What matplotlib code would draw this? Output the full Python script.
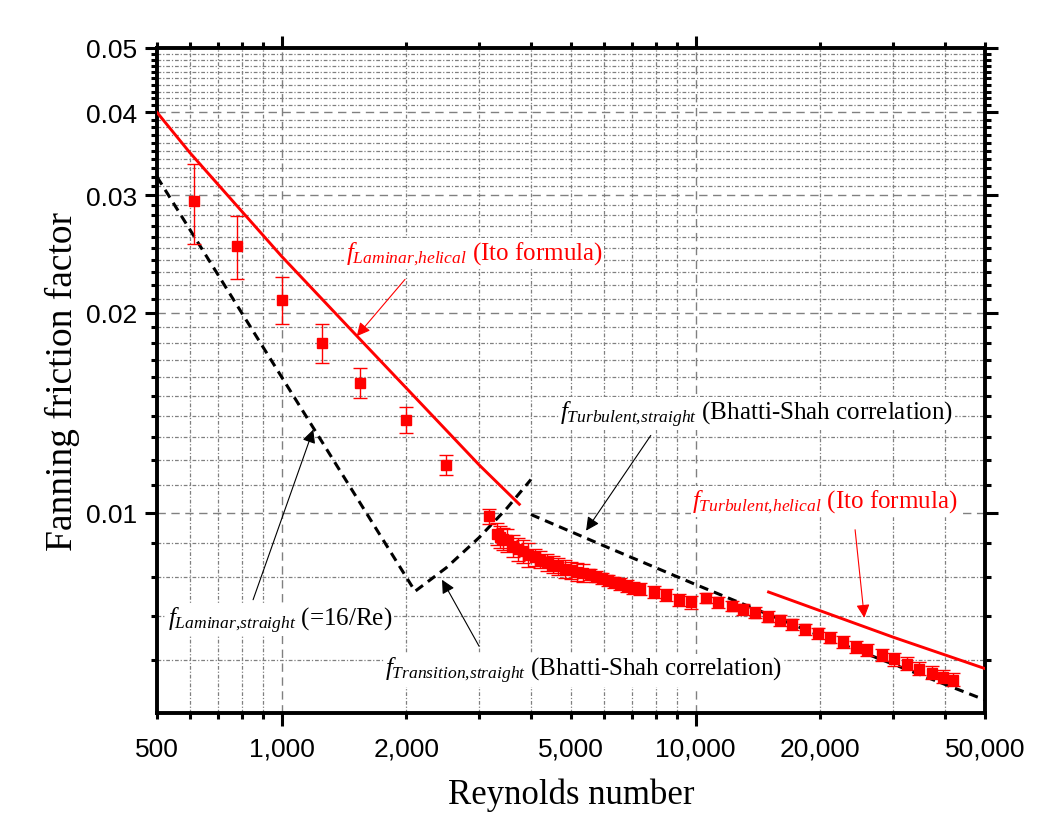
import numpy as np
import matplotlib
matplotlib.use("Agg")
import matplotlib.pyplot as plt
from matplotlib.ticker import FixedLocator, FuncFormatter, NullFormatter

plt.rcParams['font.family'] = ['Liberation Sans', 'DejaVu Sans']
plt.rcParams['mathtext.fontset'] = 'custom'
plt.rcParams['mathtext.rm'] = 'Liberation Serif'
plt.rcParams['mathtext.it'] = 'Liberation Serif:italic'
plt.rcParams['mathtext.bf'] = 'Liberation Serif:bold'

# correlation curves
re_lam_straight = [500, 2100]
f_lam_straight = [0.0320, 0.00762]
re_trans_straight = [2100, 2500, 3000, 3500, 4000]
f_trans_straight = [0.00762, 0.00827, 0.00918, 0.01016, 0.01122]
re_turb_straight = [4000, 6000, 10000, 20000, 50000]
f_turb_straight = [0.00994, 0.00892, 0.00780, 0.00653, 0.00523]

re_lam_helical = [500, 600, 1000, 1500, 2000, 3000, 3750]
f_lam_helical = [0.0400, 0.0348, 0.0243, 0.0186, 0.0154, 0.0118, 0.0103]
re_turb_helical = [15000, 30000, 50000]
f_turb_helical = [0.0076, 0.0065, 0.00583]

# measured friction factor
re_exp_low = [615, 780, 1000, 1250, 1550, 2000, 2500]
f_exp_low = [0.0294, 0.0252, 0.0209, 0.0180, 0.0157, 0.0138, 0.0118]
err_exp_low = [0.0040, 0.0027, 0.0017, 0.0012, 0.0008, 0.0006, 0.0004]

re_exp_high = [3175, 3307, 3370, 3432, 3509, 3628, 3730, 3822, 3943, 4093,
               4208, 4368, 4516, 4659, 4835, 4992, 5162, 5355, 5558, 5746,
               5930, 6152, 6351, 6567, 6815, 7047, 7340, 7934, 8481, 9134,
               9730, 10594, 11344, 12222, 12990, 13911, 14984, 15993, 17090,
               18373, 19720, 21120, 22660, 24360, 25980, 28150, 30150, 32350,
               34700, 37180, 39660, 41920]
f_exp_high = [0.00988, 0.00930, 0.00921, 0.00913, 0.00909, 0.00892, 0.00882,
              0.00875, 0.00865, 0.00858, 0.00850, 0.00842, 0.00836, 0.00831,
              0.00824, 0.00819, 0.00814, 0.00812, 0.00808, 0.00802, 0.00797,
              0.00791, 0.00786, 0.00781, 0.00775, 0.00771, 0.00768, 0.00761,
              0.00752, 0.00740, 0.00733, 0.00745, 0.00733, 0.00725, 0.00716,
              0.00708, 0.00698, 0.00689, 0.00680, 0.00668, 0.00659, 0.00649,
              0.00640, 0.00629, 0.00621, 0.00611, 0.00602, 0.00593, 0.00583,
              0.00575, 0.00567, 0.00561]
err_exp_high = ([0.00025] + [0.00035] * 8 + [0.00025] * 9 + [0.00016] * 13
                + [0.00013] * 21)

# annotations: (text, colour, text position, arrow tail, arrow head)
labels = [
    (r'$f_{Laminar{,}helical}$ (Ito formula)', 'red',
     (1430, 0.0246), (1986, 0.02244), (1518, 0.01843)),
    (r'$f_{Turbulent{,}straight}$ (Bhatti-Shah correlation)', 'black',
     (4703, 0.0141), (7790, 0.01307), (5436, 0.0094)),
    (r'$f_{Turbulent{,}helical}$ (Ito formula)', 'red',
     (9800, 0.01039), (24270, 0.00943), (25550, 0.00695)),
    (r'$f_{Laminar{,}straight}$ (=16/Re)', 'black',
     (531, 0.0069), (853, 0.0074), (1192, 0.01334)),
    (r'$f_{Transition{,}straight}$ (Bhatti-Shah correlation)', 'black',
     (1777, 0.0058), (2998, 0.0063), (2440, 0.00793)),
]

x_labelled = [500, 1000, 2000, 5000, 10000, 20000, 50000]

fig = plt.figure(figsize=(10.64, 8.37), dpi=100)
ax = fig.add_axes([0.1476, 0.1470, 0.7782, 0.7945])
ax.set_xscale('log')
ax.set_yscale('log')
ax.set_xlim(500, 50000)
ax.set_ylim(0.005, 0.05)

# curves
ax.plot(re_lam_straight + re_trans_straight[1:],
        f_lam_straight + f_trans_straight[1:],
        color='black', lw=2.2, ls='--', dashes=(3.0, 2.0), zorder=4)
ax.plot(re_turb_straight, f_turb_straight, color='black', lw=2.2, ls='--',
        dashes=(3.0, 2.0), zorder=4)
ax.plot(re_lam_helical, f_lam_helical, color='red', lw=2.1, zorder=4)
ax.plot(re_turb_helical, f_turb_helical, color='red', lw=2.1, zorder=4)

# experiments
for re, f, e in [(re_exp_low, f_exp_low, err_exp_low),
                 (re_exp_high, f_exp_high, err_exp_high)]:
    ax.errorbar(re, f, yerr=e, fmt='s', color='red', ms=7,
                ecolor='red', elinewidth=1.0, capsize=5, capthick=1.0,
                zorder=5)

for txt, col, pos, tail, head in labels:
    ax.text(pos[0], pos[1], txt, color=col, fontsize=18, ha='left',
            va='center', family='Liberation Serif', zorder=3,
            bbox=dict(facecolor='white', edgecolor='none', pad=1.0))
    ax.annotate('', xy=head, xytext=tail,
                arrowprops=dict(arrowstyle='-|>', color=col, lw=0.8,
                                shrinkA=0, shrinkB=0, mutation_scale=20),
                zorder=6)

# ticks
ax.xaxis.set_major_locator(FixedLocator([1000, 10000]))
x_minor = ([v * 100 for v in range(5, 10)] + [v * 1000 for v in range(2, 10)]
           + [v * 10000 for v in range(2, 6)])
ax.xaxis.set_minor_locator(FixedLocator(x_minor))
ax.xaxis.set_major_formatter(FuncFormatter(lambda v, p: f'{v:,.0f}'))
ax.xaxis.set_minor_formatter(FuncFormatter(
    lambda v, p: f'{v:,.0f}' if int(round(v)) in x_labelled else ''))

y_major = [0.01, 0.02, 0.03, 0.04, 0.05]
y_minor = [round(v * 0.001, 4) for v in range(6, 50) if v % 10 != 0]
ax.yaxis.set_major_locator(FixedLocator(y_major))
ax.yaxis.set_minor_locator(FixedLocator(y_minor))
ax.yaxis.set_major_formatter(FuncFormatter(lambda v, p: f'{v:.2f}'))
ax.yaxis.set_minor_formatter(NullFormatter())

ax.tick_params(which='both', direction='out', top=True, right=True,
               width=2.2, labelsize=19, colors='black')
ax.tick_params(which='major', length=9)
ax.tick_params(which='minor', length=4.5)
ax.tick_params(axis='x', which='major', pad=8)
ax.tick_params(axis='x', which='minor', pad=12.5)
ax.tick_params(axis='y', which='major', pad=5.5)

for s in ax.spines.values():
    s.set_linewidth(2.8)

ax.set_axisbelow(True)
ax.grid(which='major', color='#808080', lw=1.0, ls=(0, (6, 4)))
ax.grid(which='minor', color='#808080', lw=0.9, ls=(0, (3, 1.5, 1, 1.5)))

ax.set_xlabel('Reynolds number', family='Liberation Serif', fontsize=25,
              labelpad=12)
ax.set_ylabel('Fanning friction factor', family='Liberation Serif',
              fontsize=27, labelpad=4)

fig.savefig('out.png', dpi=100)
